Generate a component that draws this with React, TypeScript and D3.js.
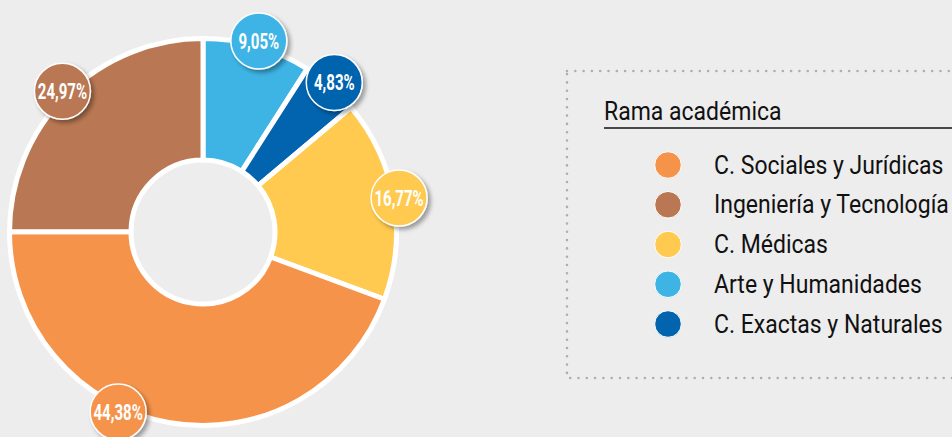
import React, { useEffect } from "react";
import * as d3 from "d3";

const categories = [
  "C. Sociales y Jurídicas",
  "Ingeniería y Tecnología",
  "C. Médicas",
  "Arte y Humanidades",
  "C. Exactas y Naturales",
];
const values = [44.38, 24.97, 16.77, 9.05, 4.83];
const colors = ["#F6934B", "#B97853", "#FFCA4F", "#3EB4E5", "#0263AE"];
const pieOrder = [
  "Arte y Humanidades",
  "C. Exactas y Naturales",
  "C. Médicas",
  "C. Sociales y Jurídicas",
  "Ingeniería y Tecnología",
];
const legendTitle = "Rama académica";

const W = 952;
const H = 437;
const BG = "#ededed";

export default function App() {
  useEffect(() => {
    document.body.style.margin = "0";
    document.body.style.background = BG;
  }, []);

  const cx = 203;
  const cy = 232;
  const outerR = 193.5;
  const innerR = 72;
  const labelR = 199;
  const bubbleR = 28;
  const maxLabelY = H - 25;

  const pieData = pieOrder.map((name) => {
    const i = categories.indexOf(name);
    return { name, value: values[i], color: colors[i] };
  });
  const pie = d3.pie<any>().sort(null).value((d: any) => d.value);
  const arcs = pie(pieData);
  const arcGen = d3.arc<any>().innerRadius(innerR).outerRadius(outerR);

  const fmt = (v: number) => d3.format(".2f")(v).replace(".", ",") + "%";

  const labels = arcs.map((a) => {
    let ang = (a.startAngle + a.endAngle) / 2;
    let y = cy - labelR * Math.cos(ang);
    if (y > maxLabelY) {
      const lim = Math.acos(-(maxLabelY - cy) / labelR);
      ang = ang > Math.PI ? 2 * Math.PI - lim : lim;
    }
    return {
      x: cx + labelR * Math.sin(ang),
      y: cy - labelR * Math.cos(ang),
      text: fmt(a.data.value),
      color: a.data.color,
    };
  });

  const legX = 567;
  const legY = 71;
  const rowY = d3
    .scalePoint<string>()
    .domain(categories)
    .range([165, 324]);

  const font = "Roboto, sans-serif";

  return (
    <svg width={W} height={H} style={{ display: "block", background: BG }}>
      <defs>
        <filter id="sh" x="-50%" y="-50%" width="200%" height="200%">
          <feDropShadow dx="3" dy="3" stdDeviation="2" floodColor="#000" floodOpacity="0.35" />
        </filter>
      </defs>
      <rect x={0} y={0} width={W} height={H} fill={BG} />
      <g transform={`translate(${cx},${cy})`}>
        {arcs.map((a, i) => (
          <path key={i} d={arcGen(a) as string} fill={a.data.color} stroke="#fff" strokeWidth={5} strokeLinejoin="round" />
        ))}
      </g>
      {labels.map((l, i) => (
        <g key={i} transform={`translate(${l.x},${l.y})`}>
          <circle r={bubbleR} fill={l.color} stroke="#fff" strokeWidth={1.5} filter="url(#sh)" />
          <text
            transform="scale(0.7,1)"
            textAnchor="middle"
            dy="0.36em"
            fill="#fff"
            fontFamily={font}
            fontWeight={700}
            fontSize={21.5}
          >
            {l.text}
          </text>
        </g>
      ))}
      <rect
        x={legX}
        y={legY}
        width={W}
        height={307}
        fill="none"
        stroke="#aeaeae"
        strokeWidth={2.6}
        strokeDasharray="0 8.3"
        strokeLinecap="round"
      />
      <g transform="translate(604,120) scale(0.92,1)">
        <text x={0} y={0} fontFamily={font} fontSize={25} fill="#111">
          {legendTitle}
        </text>
      </g>
      <line x1={604} x2={W} y1={128} y2={128} stroke="#111" strokeWidth={1.5} />
      {categories.map((c, i) => (
        <g key={c} transform={`translate(0,${rowY(c)})`}>
          <circle cx={668} cy={0} r={13.3} fill={colors[i]} stroke="#fff" strokeWidth={1} />
          <g transform="translate(714,8.5) scale(0.92,1)">
            <text x={0} y={0} fontFamily={font} fontSize={25} fill="#111">
              {c}
            </text>
          </g>
        </g>
      ))}
    </svg>
  );
}
